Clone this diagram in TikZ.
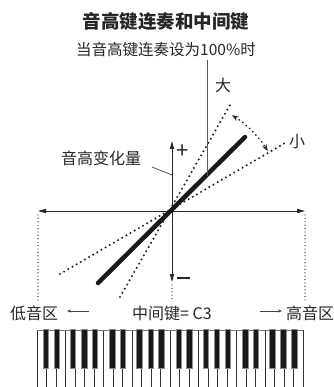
\documentclass[tikz,border=0pt]{standalone}
\usepackage{fontspec}
\setmainfont{Noto Sans CJK SC}
\usetikzlibrary{arrows.meta,calc}
\begin{document}
\begin{tikzpicture}[x=1pt,y=-1pt,
  txt/.style={inner sep=0pt, text=black!85, font=\fontsize{16}{16}\selectfont},
  axisline/.style={line width=0.9pt, draw=black!85, {Triangle[length=8pt,width=4.2pt]}-{Triangle[length=8pt,width=4.2pt]}},
  dotline/.style={line width=2.3pt, line cap=round, dash pattern=on 0pt off 4.8pt, draw=black!85},
  finedots/.style={line width=1.4pt, line cap=round, dash pattern=on 0pt off 3.4pt, draw=black!80},
  thickline/.style={line width=4.5pt, line cap=round, draw=black!90},
  thin/.style={line width=0.7pt, draw=black!75},
  wkey/.style={draw=black!80, line width=0.8pt, fill=white},
  bkey/.style={draw=black!45, line width=0.9pt, fill=black!90}]
\useasboundingbox (0,0) rectangle (333,387);

% texts
\node[txt, font=\fontsize{18.5}{18.5}\selectfont\bfseries] (title) at (166,21) {音高键连奏和中间键};
\node[txt, font=\fontsize{15.5}{15.5}\selectfont] (sub) at (166,50) {当音高键连奏设为100\%时};
\node[txt] (big) at (223,85) {大};
\node[txt] (small) at (297,142) {小};
\node[txt] (amount) at (101,158) {音高变化量};
\node[txt, font=\fontsize{22}{22}\selectfont] (plus) at (183,152) {+};
\node[txt] (low) at (34,313) {低音区};
\node[txt] (center) at (172,313) {中间键= C3};
\node[txt] (high) at (310,313) {高音区};

% coordinates
\coordinate (O) at (172,211);
\coordinate (xl) at (38,211);
\coordinate (xr) at (305,211);
\coordinate (yt) at (172,141);
\coordinate (yb) at (172,282);
\coordinate (tl) at (98,283);
\coordinate (tu) at (245,137);
\coordinate (ptop) at (207,60);
\coordinate (pbot) at (207,176);
\coordinate (su) at (230,105);
\coordinate (sl) at (120,297);
\coordinate (hu) at (285,143);
\coordinate (hl) at (60,274);
\coordinate (la) at (152,167);
\coordinate (lb) at (172,175);
\coordinate (dl) at (38,300);
\coordinate (dr) at (305,300);
\coordinate (dm) at (172,300);
\coordinate (lowa) at (89,311);
\coordinate (lowb) at (67,311);
\coordinate (higha) at (260,311);
\coordinate (highb) at (282,311);
\coordinate (mstart) at (177,278);
\coordinate (mend) at (190,278);

% dotted guide lines
\draw[dotline] (sl) -- (su);
\draw[dotline] (hl) -- (hu);
\draw[finedots] (xl) ++(0,4) -- (dl);
\draw[finedots] (xr) ++(0,4) -- (dr);
\draw[finedots] (yb) ++(0,3) -- (dm);

% axes
\draw[axisline] (xl) -- (xr);
\draw[axisline] (yb) -- (yt);
\draw[line width=1.4pt, draw=black!85] (mstart) -- (mend);

% thick line and pointer
\draw[thickline] (tl) -- (tu);
\draw[thin, draw=black!65, line width=0.9pt] (pbot) -- (ptop);
\draw[thin] (la) -- (lb);

% curved double arrow
\draw[line width=2pt, line cap=round, dash pattern=on 0pt off 4.5pt, draw=black!85,
      {Stealth[length=7pt,width=5pt]}-{Stealth[length=7pt,width=5pt]}]
  ($(O)+(-58:113)$) arc[start angle=-58, end angle=-32, radius=113];

% side arrows
\draw[thin, -{Stealth[length=4pt,width=3pt]}] (lowa) -- (lowb);
\draw[thin, -{Stealth[length=4pt,width=3pt]}] (higha) -- (highb);

% keyboard
\foreach \i in {0,...,27}
  \draw[wkey] ({37.3+\i*9.49},330) rectangle ++(9.49,62);
\draw[draw=black!55, line width=1pt] (37.3,330) -- (303,330);
\foreach \o in {0,...,3}
  \foreach \b in {0.92,2.05,3.78,4.95,6.1}
    \draw[bkey] ({37.3+(\o*7+\b)*9.49-2.7},329.5) rectangle ++(5.4,39);
\end{tikzpicture}
\end{document}
